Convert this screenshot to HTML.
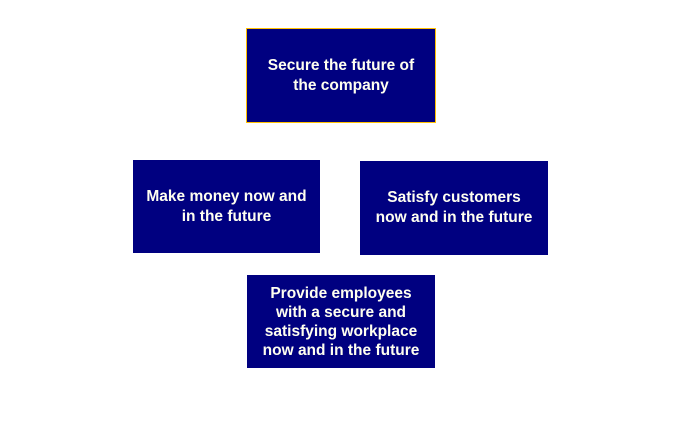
<!DOCTYPE html>
<html><head><style>
body{margin:0;width:684px;height:429px;background:#fff;position:relative;overflow:hidden;font-family:"Liberation Sans",Arial,sans-serif;}
.b{position:absolute;background:#000080;color:#fffff0;font-weight:bold;font-size:15.5px;line-height:20px;display:flex;align-items:center;justify-content:center;text-align:center;box-sizing:border-box;white-space:nowrap;}
</style></head><body>
<div class="b" style="left:246px;top:28px;width:190px;height:95px;border:1px solid #ffc000;">Secure the future of<br>the company</div>
<div class="b" style="left:133px;top:160px;width:187px;height:93px;">Make money now and<br>in the future</div>
<div class="b" style="left:360px;top:161px;width:188px;height:94px;">Satisfy customers<br>now and in the future</div>
<div class="b" style="left:247px;top:275px;width:188px;height:93px;line-height:19px">Provide employees<br>with a secure and<br>satisfying workplace<br>now and in the future</div>
</body></html>
